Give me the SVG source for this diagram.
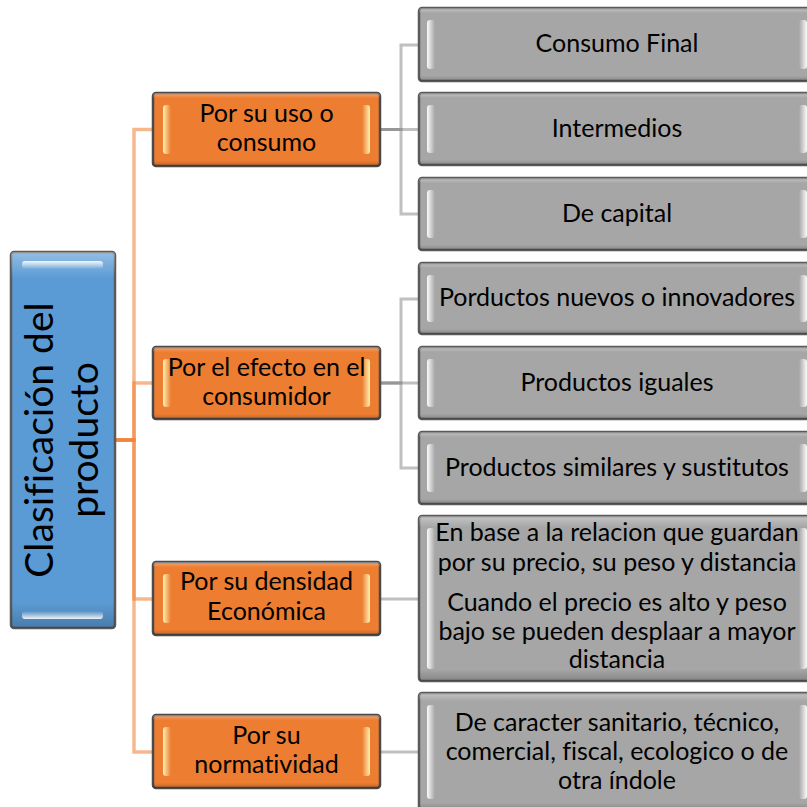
<svg xmlns="http://www.w3.org/2000/svg" width="807" height="807" viewBox="0 0 807 807">
<defs>
<linearGradient id="wL" x1="0" y1="0" x2="1" y2="0"><stop offset="0" stop-color="#ffffff" stop-opacity="0.95"/><stop offset="1" stop-color="#ffffff" stop-opacity="0"/></linearGradient>
<linearGradient id="wR" x1="1" y1="0" x2="0" y2="0"><stop offset="0" stop-color="#ffffff" stop-opacity="0.95"/><stop offset="1" stop-color="#ffffff" stop-opacity="0"/></linearGradient>
<linearGradient id="yL" x1="0" y1="0" x2="1" y2="0"><stop offset="0" stop-color="#fff2b0" stop-opacity="1"/><stop offset="1" stop-color="#fff2b0" stop-opacity="0"/></linearGradient>
<linearGradient id="yR" x1="1" y1="0" x2="0" y2="0"><stop offset="0" stop-color="#fff2b0" stop-opacity="1"/><stop offset="1" stop-color="#fff2b0" stop-opacity="0"/></linearGradient>
<linearGradient id="bT" x1="0" y1="0" x2="0" y2="1"><stop offset="0" stop-color="#ffffff" stop-opacity="0.9"/><stop offset="1" stop-color="#ffffff" stop-opacity="0"/></linearGradient>
<linearGradient id="bB" x1="0" y1="1" x2="0" y2="0"><stop offset="0" stop-color="#ffffff" stop-opacity="0.9"/><stop offset="1" stop-color="#ffffff" stop-opacity="0"/></linearGradient>
<linearGradient id="bev" x1="0" y1="0" x2="0" y2="1"><stop offset="0" stop-color="#ffffff" stop-opacity="0.35"/><stop offset="0.07" stop-color="#ffffff" stop-opacity="0"/><stop offset="0.93" stop-color="#000000" stop-opacity="0"/><stop offset="1" stop-color="#000000" stop-opacity="0.2"/></linearGradient>
</defs>
<style>
.b{stroke-width:2.5}
.g .b{fill:#a6a6a6;stroke:#5a5a5a}
.o .b{fill:#ed7d31;stroke:#4a4a4a}
.r .b{fill:#5b9bd5;stroke:#5a5a5a}
.bv{fill:url(#bev)}
.g .hl{fill:url(#wL)}
.g .hr{fill:url(#wR)}
.o .hl{fill:url(#yL)}
.o .hr{fill:url(#yR)}
text{font-family:Lato,"Liberation Sans",sans-serif;font-size:25px;text-anchor:middle;fill:#000;font-variant-ligatures:none;font-feature-settings:"liga" 0,"dlig" 0}
.rt{font-size:39px}
.oc{fill:none;stroke:#ed7d31;stroke-opacity:0.55;stroke-width:3.5}
.gc{fill:none;stroke:#8c8c8c;stroke-opacity:0.55;stroke-width:3}
</style>
<g id="connectors">
<path class="oc" d="M115 440H134V129.5H153"/>
<path class="oc" d="M115 440H134V383H153"/>
<path class="oc" d="M115 440H134V599H153"/>
<path class="oc" d="M115 440H134V752H153"/>
<path class="gc" d="M380 129.5H401V45H419"/>
<path class="gc" d="M380 129.5H419"/>
<path class="gc" d="M380 129.5H401V214H419"/>
<path class="gc" d="M380 383H401V299H419"/>
<path class="gc" d="M380 383H419"/>
<path class="gc" d="M380 383H401V468H419"/>
<path class="gc" d="M380 599H419"/>
<path class="gc" d="M380 752H419"/>
</g>
<g id="root" class="r" transform="translate(11,252)">
<rect class="b" width="104" height="376" rx="3"/>
<rect class="bv" width="104" height="376" rx="3"/>
<rect x="11" y="9" width="81" height="8" rx="3" fill="url(#bT)"/>
<rect x="11" y="359" width="81" height="8" rx="3" fill="url(#bB)"/>
<text class="rt" transform="translate(52,188) rotate(-90)"><tspan x="0" y="-10">Clasificación del</tspan><tspan x="0" y="35">producto</tspan></text>
</g>
<g id="o1" class="o" transform="translate(153,93)">
<rect class="b" width="227" height="73" rx="3"/><rect class="bv" width="227" height="73" rx="3"/>
<rect class="hl" x="10" y="12" width="8" height="49" rx="3"/><rect class="hr" x="209" y="12" width="8" height="49" rx="3"/>
<text x="113.5" y="29">Por su uso o</text><text x="113.5" y="58">consumo</text>
</g>
<g id="o2" class="o" transform="translate(153,347)">
<rect class="b" width="227" height="72" rx="3"/><rect class="bv" width="227" height="72" rx="3"/>
<rect class="hl" x="10" y="12" width="8" height="48" rx="3"/><rect class="hr" x="209" y="12" width="8" height="48" rx="3"/>
<text x="113.5" y="29">Por el efecto en el</text><text x="113.5" y="58">consumidor</text>
</g>
<g id="o3" class="o" transform="translate(153,562)">
<rect class="b" width="227" height="73" rx="3"/><rect class="bv" width="227" height="73" rx="3"/>
<rect class="hl" x="10" y="12" width="8" height="49" rx="3"/><rect class="hr" x="209" y="12" width="8" height="49" rx="3"/>
<text x="113.5" y="28">Por su densidad</text><text x="113.5" y="58">Económica</text>
</g>
<g id="o4" class="o" transform="translate(153,715)">
<rect class="b" width="227" height="73" rx="3"/><rect class="bv" width="227" height="73" rx="3"/>
<rect class="hl" x="10" y="12" width="8" height="49" rx="3"/><rect class="hr" x="209" y="12" width="8" height="49" rx="3"/>
<text x="113.5" y="29">Por su</text><text x="113.5" y="58">normatividad</text>
</g>
<g id="g1" class="g" transform="translate(419,8)">
<rect class="b" width="396" height="73" rx="3"/><rect class="bv" width="396" height="73" rx="3"/>
<rect class="hl" x="8" y="12" width="8" height="49" rx="3"/><rect class="hr" x="380" y="12" width="8" height="49" rx="3"/>
<text x="198" y="44">Consumo Final</text>
</g>
<g id="g2" class="g" transform="translate(419,93)">
<rect class="b" width="396" height="72" rx="3"/><rect class="bv" width="396" height="72" rx="3"/>
<rect class="hl" x="8" y="12" width="8" height="48" rx="3"/><rect class="hr" x="380" y="12" width="8" height="48" rx="3"/>
<text x="198" y="44">Intermedios</text>
</g>
<g id="g3" class="g" transform="translate(419,178)">
<rect class="b" width="396" height="72" rx="3"/><rect class="bv" width="396" height="72" rx="3"/>
<rect class="hl" x="8" y="12" width="8" height="48" rx="3"/><rect class="hr" x="380" y="12" width="8" height="48" rx="3"/>
<text x="198" y="44">De capital</text>
</g>
<g id="g4" class="g" transform="translate(419,263)">
<rect class="b" width="396" height="71" rx="3"/><rect class="bv" width="396" height="71" rx="3"/>
<rect class="hl" x="8" y="12" width="8" height="47" rx="3"/><rect class="hr" x="380" y="12" width="8" height="47" rx="3"/>
<text x="198" y="43">Porductos nuevos o innovadores</text>
</g>
<g id="g5" class="g" transform="translate(419,347)">
<rect class="b" width="396" height="72" rx="3"/><rect class="bv" width="396" height="72" rx="3"/>
<rect class="hl" x="8" y="12" width="8" height="48" rx="3"/><rect class="hr" x="380" y="12" width="8" height="48" rx="3"/>
<text x="198" y="44">Productos iguales</text>
</g>
<g id="g6" class="g" transform="translate(419,432)">
<rect class="b" width="396" height="72" rx="3"/><rect class="bv" width="396" height="72" rx="3"/>
<rect class="hl" x="8" y="12" width="8" height="48" rx="3"/><rect class="hr" x="380" y="12" width="8" height="48" rx="3"/>
<text x="198" y="44">Productos similares y sustitutos</text>
</g>
<g id="g7" class="g" transform="translate(419,516)">
<rect class="b" width="396" height="165" rx="3"/><rect class="bv" width="396" height="165" rx="3"/>
<rect class="hl" x="8" y="12" width="8" height="141" rx="3"/><rect class="hr" x="380" y="12" width="8" height="141" rx="3"/>
<text x="198" y="25">En base a la relacion que guardan</text>
<text x="198" y="55">por su precio, su peso y distancia</text>
<text x="198" y="95">Cuando el precio es alto y peso</text>
<text x="198" y="124">bajo se pueden desplaar a mayor</text>
<text x="198" y="152">distancia</text>
</g>
<g id="g8" class="g" transform="translate(419,693)">
<rect class="b" width="396" height="118" rx="3"/><rect class="bv" width="396" height="118" rx="3"/>
<rect class="hl" x="8" y="12" width="8" height="94" rx="3"/><rect class="hr" x="380" y="12" width="8" height="94" rx="3"/>
<text x="198" y="38">De caracter sanitario, técnico,</text>
<text x="198" y="67">comercial, fiscal, ecologico o de</text>
<text x="198" y="96">otra índole</text>
</g>
</svg>
